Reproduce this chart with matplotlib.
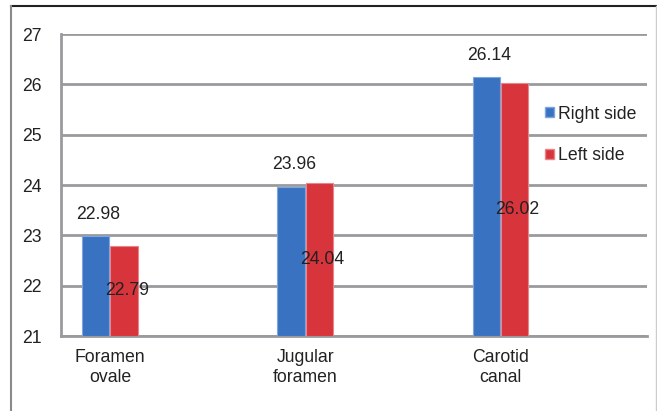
import matplotlib
matplotlib.use("Agg")
import matplotlib.pyplot as plt
from matplotlib.lines import Line2D
from matplotlib.patches import Patch
import numpy as np

categories = ["Foramen\novale", "Jugular\nforamen", "Carotid\ncanal"]
right_side = [22.98, 23.96, 26.14]
left_side = [22.79, 24.04, 26.02]
yticks = [21, 22, 23, 24, 25, 26, 27]

plt.rcParams['font.family'] = ['Liberation Sans', 'DejaVu Sans']
FS = 12.7
TXT = '#222222'
BLUE = '#3a72c2'
RED = '#d8343c'
GRID = '#9a9a9e'

W, H = 657, 411
fig = plt.figure(figsize=(W / 100, H / 100), dpi=100)
ax = fig.add_axes([61 / W, (H - 336) / H, (647 - 61) / W, (336 - 34) / H])

x = np.arange(len(categories))
bw = 0.14
off = 0.073
bars_r = ax.bar(x - off, [v - 21 for v in right_side], bw, bottom=21, color=BLUE,
                edgecolor='#7fa6dc', linewidth=0.8, zorder=3)
bars_l = ax.bar(x + off, [v - 21 for v in left_side], bw, bottom=21, color=RED,
                edgecolor='#e8858a', linewidth=0.8, zorder=3)

for xi, v in zip(x, right_side):
    ax.annotate(f"{v:.2f}", (xi - off, v), xytext=(2, 16), textcoords='offset points',
                ha='center', va='center', fontsize=FS, color=TXT, zorder=5)
for xi, v in zip(x + off, left_side):
    ax.annotate(f"{v:.2f}", (xi, (v + 21) / 2), xytext=(2, 0), textcoords='offset points',
                ha='center', va='center', fontsize=FS, color=TXT, zorder=5)

ax.set_ylim(21, 27)
ax.set_xlim(-0.25, 2.75)
ax.set_yticks(yticks)
ax.set_yticklabels([str(t) for t in yticks], fontsize=FS, color=TXT)
ax.set_xticks(x)
ax.set_xticklabels(categories, fontsize=FS, color=TXT, linespacing=1.3)
ax.tick_params(axis='y', length=0, pad=14)
ax.tick_params(axis='x', length=0, pad=9)
ax.yaxis.grid(True, color=GRID, linewidth=2, zorder=0)
ax.set_axisbelow(True)
for s in ['top', 'right']:
    ax.spines[s].set_visible(False)
for s in ['left', 'bottom']:
    ax.spines[s].set_color(GRID)
    ax.spines[s].set_linewidth(2)

handles = [Patch(facecolor=BLUE, edgecolor='#7fa6dc'), Patch(facecolor=RED, edgecolor='#e8858a')]
fig.legend(handles, ["Right side", "Left side"], loc='center left',
           bbox_to_anchor=(545 / W, (H - 135) / H), frameon=False, fontsize=FS,
           handlelength=0.5, handleheight=0.5, handletextpad=0.25, labelspacing=1.4,
           borderpad=0, borderaxespad=0, labelcolor=TXT)

# outer frame
fig.add_artist(Line2D([11 / W, 1.0], [(H - 6) / H] * 2, color='#222222', linewidth=1.5))
fig.add_artist(Line2D([11 / W] * 2, [0, (H - 6) / H], color='#8a8a8a', linewidth=1.5))
fig.add_artist(Line2D([656 / W] * 2, [0, (H - 6) / H], color='#cccccc', linewidth=1.0))

fig.savefig("out.png", dpi=100)
